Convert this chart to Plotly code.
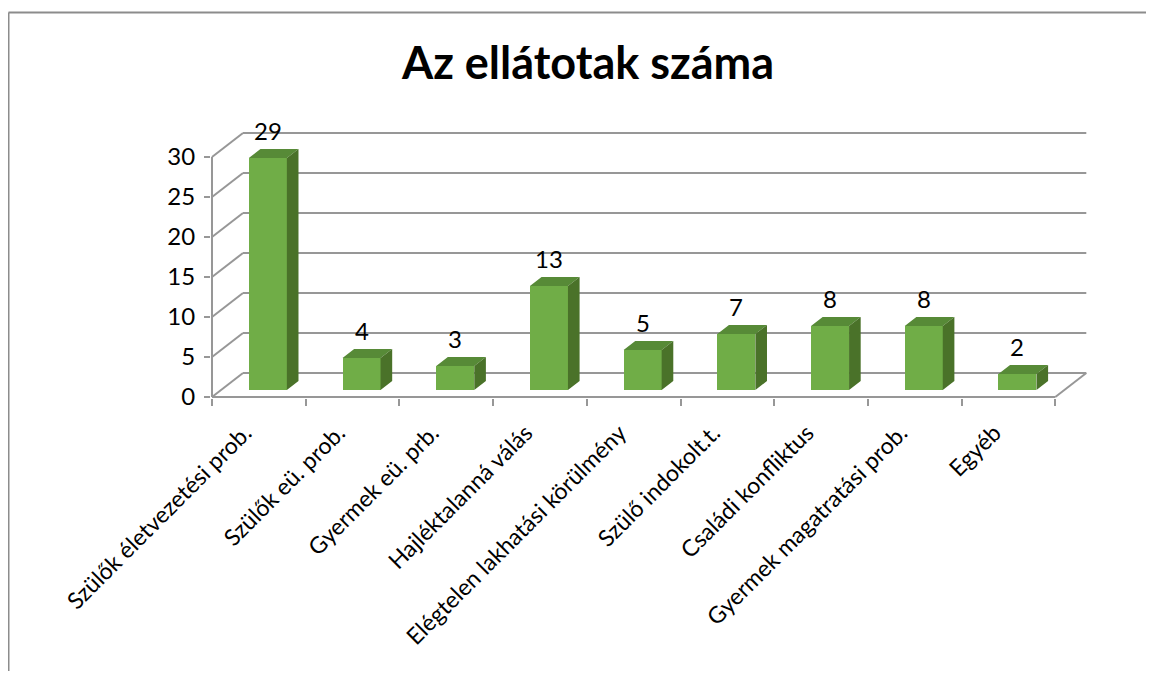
import plotly.graph_objects as go

# ---- data ----
categories = [
    "Szülők életvezetési prob.",
    "Szülők eü. prob.",
    "Gyermek eü. prb.",
    "Hajléktalanná válás",
    "Elégtelen lakhatási körülmény",
    "Szülő indokolt.t.",
    "Családi konfliktus",
    "Gyermek magatratási prob.",
    "Egyéb",
]
values = [29, 4, 3, 13, 5, 7, 8, 8, 2]
y_ticks = [0, 5, 10, 15, 20, 25, 30]
title_text = "Az ellátotak száma"

# ---- layout / pseudo-3D geometry ----
SCREEN_W, SCREEN_H = 1154, 679
OFF = 8          # page body margin of the html page
W, H = SCREEN_W - 2 * OFF, SCREEN_H - 2 * OFF
FONT = "Lato"
PX_X = 93.7      # pixels per category
PX_Y = 8.0       # pixels per value unit
X0_PX = 212 - OFF  # pixel of x = -0.5 (front-left corner)
Y0_PX = 397 - OFF  # pixel of value 0 at front
L = 211 - OFF
T = 100 - OFF
PLOT_BOTTOM = 398 - OFF
PLOT_RIGHT = 1100 - OFF
R = W - PLOT_RIGHT
B = H - PLOT_BOTTOM

x_lo = -0.5 - (X0_PX - L) / PX_X
x_hi = -0.5 + (PLOT_RIGHT - X0_PX) / PX_X
y_lo = -(PLOT_BOTTOM - Y0_PX) / PX_Y
y_hi = (Y0_PX - T) / PX_Y

WALL_DX = 31 / PX_X   # depth offset of back wall (x units)
WALL_DY = 24 / PX_Y   # depth offset of back wall (value units)
D_FRONT, D_BACK = 0.29, 0.665  # bar depth (fraction of wall depth)
HW = 0.203                      # bar half width

n = len(categories)
x_left, x_right = -0.5, n - 0.5
top_val = max(y_ticks)

GRID = "#979797"
BORDER = "#8c8c8c"
FRONT_C = "#70AD47"
TOP_C = "#578A37"
SIDE_C = "#4A7229"

fig = go.Figure()

# front faces of bars
fx = D_FRONT * WALL_DX
fy = D_FRONT * WALL_DY
bx = D_BACK * WALL_DX
by = D_BACK * WALL_DY
fig.add_trace(go.Bar(
    x=[i + fx for i in range(n)], y=values, base=fy, width=2 * HW,
    marker=dict(color=FRONT_C, line=dict(width=0)),
    hoverinfo="skip", showlegend=False,
))

# top and side faces
tx, ty, sx, sy = [], [], [], []
for i, v in enumerate(values):
    tx += [i - HW + fx, i + HW + fx, i + HW + bx, i - HW + bx, i - HW + fx, None]
    ty += [v + fy, v + fy, v + by, v + by, v + fy, None]
    sx += [i + HW + fx, i + HW + bx, i + HW + bx, i + HW + fx, i + HW + fx, None]
    sy += [fy, by, v + by, v + fy, fy, None]
fig.add_trace(go.Scatter(x=tx, y=ty, mode="lines", fill="toself", fillcolor=TOP_C,
                         line=dict(width=0, color=TOP_C), hoverinfo="skip", showlegend=False))
fig.add_trace(go.Scatter(x=sx, y=sy, mode="lines", fill="toself", fillcolor=SIDE_C,
                         line=dict(width=0, color=SIDE_C), hoverinfo="skip", showlegend=False))

shapes = []
# back-wall gridlines and left-wall diagonals
for t in y_ticks:
    shapes.append(dict(type="line", xref="x", yref="y", layer="below",
                       x0=x_left + WALL_DX, x1=x_right + WALL_DX,
                       y0=t + WALL_DY, y1=t + WALL_DY, line=dict(color=GRID, width=2)))
    shapes.append(dict(type="line", xref="x", yref="y", layer="below",
                       x0=x_left, x1=x_left + WALL_DX,
                       y0=t, y1=t + WALL_DY, line=dict(color=GRID, width=2)))
# floor front and right edges
shapes.append(dict(type="line", xref="x", yref="y", layer="below",
                   x0=x_left, x1=x_right, y0=0, y1=0, line=dict(color=GRID, width=2)))
shapes.append(dict(type="line", xref="x", yref="y", layer="below",
                   x0=x_right, x1=x_right + WALL_DX, y0=0, y1=WALL_DY,
                   line=dict(color=GRID, width=2)))
# front vertical axis line
shapes.append(dict(type="line", xref="x", yref="y", layer="below",
                   x0=x_left, x1=x_left, y0=0, y1=top_val, line=dict(color=GRID, width=2)))
# chart border (left and top)
PW, PH = W - L - R, H - T - B
bl = (8.5 - OFF - L) / PW
bt = 1 + (T - (12.5 - OFF)) / PH
fig_bottom = -(B + 20) / PH
fig_right = 1 + (R + 20) / PW
shapes.append(dict(type="line", xref="paper", yref="paper", layer="above",
                   x0=bl, x1=bl, y0=fig_bottom, y1=bt,
                   line=dict(color=BORDER, width=2)))
shapes.append(dict(type="line", xref="paper", yref="paper", layer="above",
                   x0=bl, x1=fig_right, y0=bt, y1=bt,
                   line=dict(color=BORDER, width=2)))

annotations = []
for i, v in enumerate(values):
    annotations.append(dict(x=i + fx, y=v + fy, xref="x", yref="y", text=str(v),
                            showarrow=False, yanchor="bottom", yshift=11,
                            font=dict(family=FONT, size=24, color="black")))

fig.update_layout(
    width=W, height=H,
    margin=dict(l=L, r=R, t=T, b=B),
    paper_bgcolor="white", plot_bgcolor="rgba(0,0,0,0)",
    title=dict(text=f"<b>{title_text}</b>", x=(588 - OFF) / W, xanchor="center",
               y=1 - (63 - OFF) / H, yanchor="middle",
               font=dict(family=FONT, size=45, color="black")),
    shapes=shapes, annotations=annotations,
    bargap=0, showlegend=False,
    xaxis=dict(range=[x_lo, x_hi], tickmode="array", tickvals=list(range(n)),
               ticktext=categories, tickangle=-45, ticks="", showgrid=False,
               zeroline=False, showline=False,
               tickfont=dict(family=FONT, size=23, color="black"),
               ticklabelstandoff=16, ticklabelshift=-14,
               minor=dict(tickmode="array", tickvals=[k - 0.5 for k in range(n + 1)],
                          ticks="outside", ticklen=7, tickwidth=1.5, tickcolor=GRID,
                          showgrid=False)),
    yaxis=dict(range=[y_lo, y_hi], tickmode="array", tickvals=y_ticks,
               ticks="outside", ticklen=6, tickwidth=1.5, tickcolor=GRID,
               showgrid=False, zeroline=False, showline=False,
               tickfont=dict(family=FONT, size=24, color="black"),
               ticklabelstandoff=4),
)

fig.write_html("out.html")
